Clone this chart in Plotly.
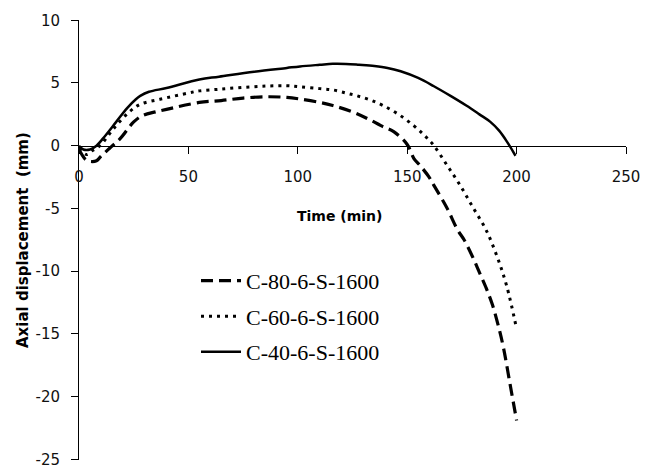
import plotly.graph_objects as go

# C-80-6-S-1600 (dashed)
t80 = [0, 3, 5, 8, 10, 14, 19, 25, 29, 35, 40, 55, 65, 75, 86, 95, 101, 110, 116, 125, 132, 138, 144, 150, 153, 156, 160, 162, 168, 173, 176, 180, 183, 186, 189, 192, 194, 197, 200]
d80 = [-0.3, -1.1, -1.25, -1.2, -0.85, -0.2, 0.6, 1.9, 2.4, 2.7, 2.9, 3.45, 3.6, 3.8, 3.9, 3.85, 3.72, 3.45, 3.2, 2.7, 2.15, 1.6, 1.1, 0.1, -1.0, -1.6, -2.5, -3.1, -4.9, -6.7, -7.5, -8.9, -10.1, -11.3, -12.7, -14.6, -16.1, -19.0, -21.9]

# C-60-6-S-1600 (dotted)
t60 = [0, 3.5, 6, 9.6, 16, 23, 28, 37, 50, 55, 64, 75, 86, 95, 101, 110, 116, 122, 127, 133, 139, 146, 153, 158, 162, 168, 174, 180, 186, 191, 195.5, 200]
d60 = [-0.2, -0.7, -0.4, 0.0, 1.4, 2.7, 3.3, 3.7, 4.2, 4.37, 4.5, 4.65, 4.76, 4.78, 4.7, 4.55, 4.45, 4.2, 3.98, 3.65, 3.2, 2.5, 1.6, 0.8, 0.06, -1.5, -3.1, -4.9, -6.7, -8.8, -11.2, -14.6]

# C-40-6-S-1600 (solid)
t40 = [0, 2, 5, 8, 12, 17, 22, 26, 28, 32, 40, 55, 64, 80, 95, 101, 110, 116, 122, 128, 135, 141, 147, 155, 162, 170, 177, 183, 188, 192, 195.5, 199.5]
d40 = [0.0, -0.3, -0.3, 0.0, 0.8, 1.9, 3.0, 3.7, 3.97, 4.3, 4.6, 5.28, 5.5, 5.9, 6.2, 6.32, 6.45, 6.53, 6.52, 6.45, 6.35, 6.2, 5.93, 5.4, 4.76, 3.95, 3.2, 2.5, 1.9, 1.2, 0.35, -0.8]

names = ["C-80-6-S-1600", "C-60-6-S-1600", "C-40-6-S-1600"]

x_ticks = [0, 50, 100, 150, 200, 250]
x_labels = ["0", "50", "100", "150", "200", "250"]
y_ticks = [10, 5, 0, -5, -10, -15, -20, -25]
y_labels = ["10", "5", "0", "-5", "-10", "-15", "-20", "-25"]

fig = go.Figure()
fig.add_trace(go.Scatter(x=t80, y=d80, mode="lines", name=names[0], legendgroup="a",
                         line=dict(color="black", width=3.2, dash="12px,6px"), line_shape="spline"))
fig.add_trace(go.Scatter(x=t60, y=d60, mode="lines", name=names[1], legendgroup="b",
                         line=dict(color="black", width=3, dash="3px,5px"), line_shape="spline"))
fig.add_trace(go.Scatter(x=t40, y=d40, mode="lines", name=names[2], legendgroup="c",
                         line=dict(color="black", width=2.5), line_shape="spline"))

tickfont = dict(family="DejaVu Sans", size=15, color="#111111")
fig.update_layout(
    width=645, height=470,
    margin=dict(l=79, r=19, t=20, b=10),
    plot_bgcolor="white", paper_bgcolor="white",
    showlegend=True,
    legend=dict(x=(196 - 79) / 547, y=0.455, xanchor="left", yanchor="top",
                font=dict(family="Liberation Serif", size=22, color="black"),
                itemwidth=40, tracegroupgap=4, bgcolor="rgba(0,0,0,0)"),
    xaxis=dict(range=[0, 250], tickmode="array", tickvals=x_ticks, ticktext=x_labels,
               anchor="free", position=25/35,
               showline=True, linecolor="black", linewidth=1, ticks="outside",
               ticklen=7, tickcolor="black", showgrid=False, zeroline=False,
               ticklabelstandoff=10, tickfont=tickfont, automargin=False),
    yaxis=dict(range=[-25.05, 10.02], tickmode="array", tickvals=y_ticks, ticktext=y_labels,
               showline=True, linecolor="black",
               linewidth=1, ticks="outside", ticklen=7, tickcolor="black",
               showgrid=False, zeroline=False, ticklabelstandoff=8, tickfont=tickfont,
               ticklabeloverflow="allow", automargin=False),
    annotations=[
        dict(text="<b>Time (min)</b>", x=0.477, y=0.555, xref="paper", yref="paper",
             showarrow=False, font=dict(family="DejaVu Sans", size=14, color="black")),
        dict(text="<b>Axial displacement  (mm)</b>", x=-0.1225, y=0.5, xref="paper", yref="paper",
             showarrow=False, textangle=-90, font=dict(family="DejaVu Sans", size=15, color="black")),
    ],
)

fig.write_html("out.html")
